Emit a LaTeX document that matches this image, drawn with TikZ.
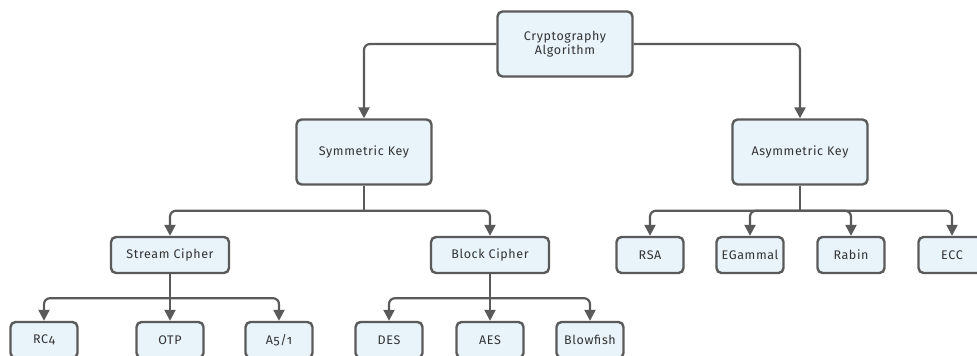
\documentclass[tikz,border=0pt]{standalone}
\usepackage{fontspec}
\setmainfont[Numbers=OldStyle,LetterSpace=5]{Fira Sans}
\usetikzlibrary{arrows.meta}
\definecolor{boxfill}{HTML}{E8F3FA}
\definecolor{boxline}{HTML}{5A5A5A}
\definecolor{txt}{HTML}{333333}
\tikzset{
  nbox/.style={draw=boxline, fill=boxfill, line width=2.4pt, rounded corners=5pt,
    text=txt, font=\fontsize{12.5}{14.5}\selectfont, align=center, inner sep=0pt},
  big/.style={nbox, minimum width=135pt, minimum height=65pt},
  mid/.style={nbox, minimum width=118pt, minimum height=36pt},
  leaf/.style={nbox, minimum width=67pt, minimum height=36pt},
  conn/.style={draw=boxline, line width=2.2pt, rounded corners=6pt,
    -{Triangle[length=11pt,width=11pt]}},
  plain/.style={draw=boxline, line width=2.2pt, rounded corners=6pt}
}
\begin{document}
\begin{tikzpicture}[x=1pt,y=-1pt]
\useasboundingbox (0,0) rectangle (977,356);
\clip (0,0) rectangle (977,356);
\node[big] (crypto) at (565,44) {Cryptography\\Algorithm};
\node[big] (sym) at (364,152) {Symmetric Key};
\node[big] (asym) at (800,152) {Asymmetric Key};
\node[mid] (stream) at (170,255) {Stream Cipher};
\node[mid] (block) at (490,255) {Block Cipher};
\node[leaf] (rsa) at (650,255) {RSA};
\node[leaf] (egam) at (750,255) {EGammal};
\node[leaf] (rabin) at (851,255) {Rabin};
\node[leaf] (ecc) at (952,255) {ECC};
\node[leaf] (rc4) at (44,340) {RC4};
\node[leaf] (otp) at (170,340) {OTP};
\node[leaf] (a51) at (279,340) {A5/1};
\node[leaf] (des) at (389,340) {DES};
\node[leaf] (aes) at (490,340) {AES};
\node[leaf] (blow) at (590,340) {Blowfish};

\draw[conn] (crypto.west) -| (sym.north);
\draw[conn] (crypto.east) -| (asym.north);

\draw[plain] (sym.south) -- ++(0,25) coordinate (sj);
\draw[conn] (sj) -| (stream.north);
\draw[conn] (sj) -| (block.north);

\draw[plain] (asym.south) -- ++(0,25) coordinate (aj);
\draw[conn] (aj) -| (rsa.north);
\draw[conn] (aj) -| (egam.north);
\draw[conn] (aj) -| (rabin.north);
\draw[conn] (aj) -| (ecc.north);

\draw[plain] (stream.south) -- ++(0,24) coordinate (tj);
\draw[conn] (tj) -| (rc4.north);
\draw[conn] (tj) -- (otp.north);
\draw[conn] (tj) -| (a51.north);

\draw[plain] (block.south) -- ++(0,24) coordinate (bj);
\draw[conn] (bj) -| (des.north);
\draw[conn] (bj) -- (aes.north);
\draw[conn] (bj) -| (blow.north);
\end{tikzpicture}
\end{document}
